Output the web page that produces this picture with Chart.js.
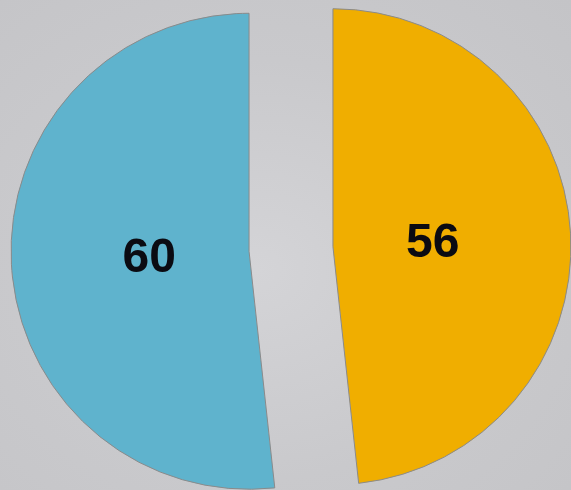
<!DOCTYPE html>
<html>
<head>
<meta charset="utf-8">
<script src="https://cdn.jsdelivr.net/npm/chart.js@4"></script>
<style>
  html,body{margin:0;padding:0;background:#c8c8cb;}
  #wrap{width:571px;height:490px;position:relative;
    background:radial-gradient(ellipse at 45% 55%, #d4d4d7 0%, #c9c9cc 55%, #c4c4c7 100%);}
</style>
</head>
<body>
<div id="wrap"><canvas id="chartPie"></canvas></div>
<script>
// data
const labels = ['B', 'A'];
const values = [56, 60];
const colors = ['#f0ae00', '#5fb3cd'];

const EXPLODE = 42; // px each slice is pulled out

// pull slices apart without the angle trimming that the built-in offset does
const explode = {
  id: 'explode',
  beforeDatasetDraw(chart, args){
    const ctx = chart.ctx;
    chart.getDatasetMeta(args.index).data.forEach(arc => {
      const p = arc.getProps(['startAngle','endAngle'], true);
      const mid = (p.startAngle + p.endAngle) / 2;
      ctx.save();
      ctx.translate(Math.cos(mid) * EXPLODE, Math.sin(mid) * EXPLODE);
      arc.draw(ctx, chart.chartArea);
      ctx.restore();
    });
    return false;
  }
};

// draw the value inside each slice
const sliceLabels = {
  id: 'sliceLabels',
  afterDatasetsDraw(chart){
    const ctx = chart.ctx;
    const meta = chart.getDatasetMeta(0);
    ctx.save();
    ctx.font = 'bold 48px "Liberation Sans", Arial, sans-serif';
    ctx.fillStyle = '#0b0b12';
    ctx.textAlign = 'center';
    ctx.textBaseline = 'middle';
    meta.data.forEach((arc, i) => {
      const p = arc.getProps(['x','y','startAngle','endAngle','outerRadius'], true);
      const mid = (p.startAngle + p.endAngle) / 2;
      const d = p.outerRadius * 0.42 + EXPLODE;
      ctx.fillText(String(values[i]), p.x + Math.cos(mid) * d, p.y + Math.sin(mid) * d + 2);
    });
    ctx.restore();
  }
};

new Chart(document.getElementById('chartPie'), {
  type: 'pie',
  data: {
    labels: labels,
    datasets: [{
      data: values,
      backgroundColor: colors,
      borderColor: '#8a8a8a',
      borderWidth: 1
    }]
  },
  options: {
    responsive: true,
    maintainAspectRatio: false,
    animation: false,
    radius: 238,
    layout: { padding: { left: 11, top: 8 } },
    plugins: { legend: { display: false }, tooltip: { enabled: false } }
  },
  plugins: [explode, sliceLabels]
});
</script>
</body>
</html>
